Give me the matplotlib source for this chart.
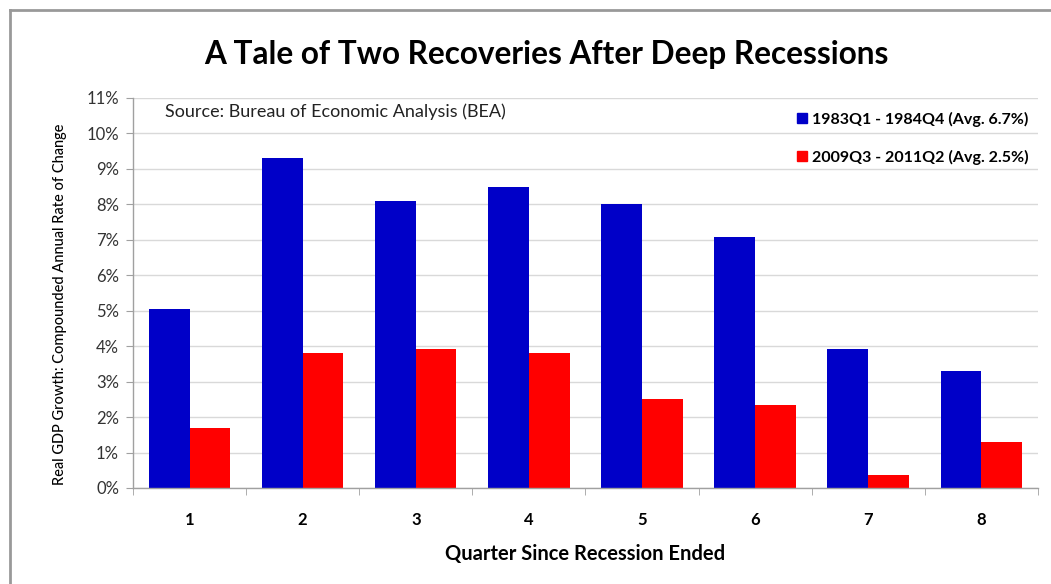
import numpy as np
import matplotlib
matplotlib.use("Agg")
from matplotlib import pyplot as plt
from matplotlib.lines import Line2D

plt.rcParams['font.family'] = ['Lato', 'DejaVu Sans']

quarters = ["1", "2", "3", "4", "5", "6", "7", "8"]
growth_1983 = [5.05, 9.3, 8.1, 8.5, 8.0, 7.08, 3.93, 3.3]
growth_2009 = [1.7, 3.82, 3.93, 3.8, 2.5, 2.35, 0.37, 1.3]
label_1983 = "1983Q1 - 1984Q4 (Avg. 6.7%)"
label_2009 = "2009Q3 - 2011Q2 (Avg. 2.5%)"

BLUE = "#0000C8"
RED = "#FF0000"

fig = plt.figure(figsize=(10.51, 5.84), dpi=100)
ax = fig.add_axes([0.1265, 0.1644, 0.861, 0.6678])

x = np.arange(len(quarters))
w = 0.36
ax.bar(x - w / 2, growth_1983, w, color=BLUE, zorder=3)
ax.bar(x + w / 2, growth_2009, w, color=RED, zorder=3)

ax.set_xlim(-0.5, len(quarters) - 0.5)
ax.set_ylim(0, 11)
ax.set_yticks(range(0, 12))
ax.set_yticklabels([f"{v}%" for v in range(0, 12)], fontsize=12, color="#333333")
ax.set_xticks(x)
ax.set_xticklabels(quarters, fontsize=12, fontweight="bold")
ax.set_xticks(np.arange(-0.5, len(quarters)), minor=True)
ax.tick_params(axis="x", which="major", length=0, pad=17)
ax.tick_params(axis="x", which="minor", length=5, color="#A0A0A0", direction="out")
ax.tick_params(axis="y", length=5, color="#A0A0A0", pad=5)

ax.grid(axis="y", color="#D9D9D9", linewidth=1, zorder=0)
for side in ("top", "right"):
    ax.spines[side].set_visible(False)
for side in ("left", "bottom"):
    ax.spines[side].set_color("#A0A0A0")
    ax.spines[side].set_linewidth(1)
    ax.spines[side].set_zorder(4)

ax.set_xlabel("Quarter Since Recession Ended", fontsize=14.5, fontweight="bold", labelpad=12)
ax.set_ylabel("Real GDP Growth: Compounded Annual Rate of Change", fontsize=10.5,
              fontweight="medium")
ax.yaxis.set_label_coords(-0.073, 0.47)

ax.text(0.035, 0.965, "Source: Bureau of Economic Analysis (BEA)", transform=ax.transAxes,
        fontsize=13, color="#222222", va="center", ha="left")

handles = [
    Line2D([], [], marker="s", linestyle="none", color=BLUE, markersize=7),
    Line2D([], [], marker="s", linestyle="none", color=RED, markersize=7),
]
ax.legend(handles, [label_1983, label_2009], loc="upper right", bbox_to_anchor=(1.0, 0.99),
          frameon=False, prop={"size": 11.5, "weight": "bold"}, handlelength=0.6,
          handletextpad=0.3, labelspacing=1.45, borderaxespad=0.2)

fig.text(0.52, 0.906, "A Tale of Two Recoveries After Deep Recessions", ha="center", va="center",
         fontsize=22.7, fontweight="bold")

# chart frame on the left and top edges
fig.add_artist(Line2D([9.5 / 1051, 9.5 / 1051], [0, 1 - 10 / 584], transform=fig.transFigure,
                      color="#999999", linewidth=2))
fig.add_artist(Line2D([9.5 / 1051, 1], [1 - 10 / 584, 1 - 10 / 584], transform=fig.transFigure,
                      color="#999999", linewidth=2))

fig.savefig("out.png", dpi=100)
